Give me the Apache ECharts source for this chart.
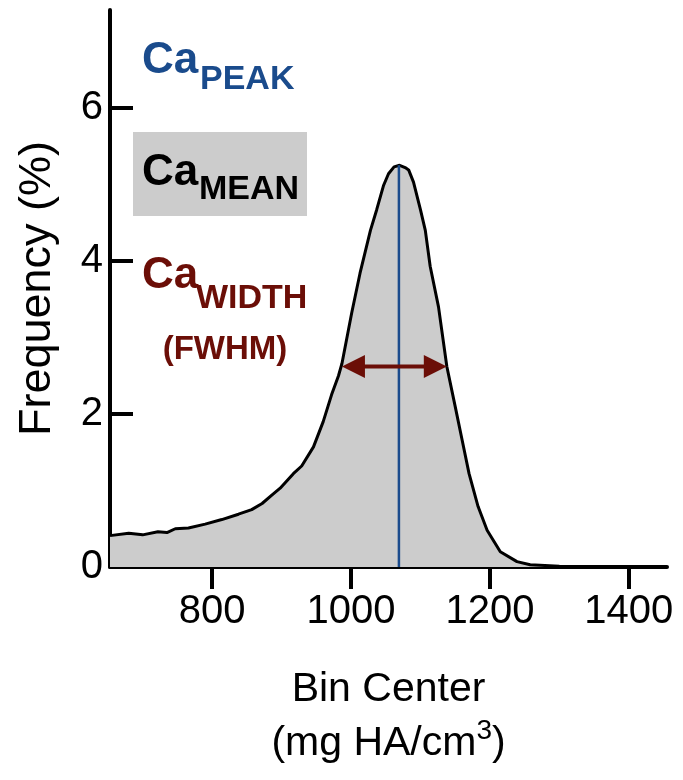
<!DOCTYPE html>
<html>
<head>
<meta charset="utf-8">
<script src="https://cdn.jsdelivr.net/npm/echarts@6/dist/echarts.min.js"></script>
<style>
  html, body { margin: 0; padding: 0; background: #ffffff; }
  #chart { width: 683px; height: 780px; }
</style>
</head>
<body>
<div id="chart"></div>
<script>
// ---- data ----
const binCenter = [653, 680, 700, 722, 735, 747, 766, 790, 814, 838, 857, 872, 886, 898, 917, 929, 946, 960, 972, 982, 987, 1001, 1013, 1028, 1037, 1047, 1054, 1062, 1070, 1078, 1083, 1090, 1100, 1107, 1114, 1126, 1138, 1150, 1160, 1170, 1183, 1196, 1215, 1239, 1258, 1300, 1350, 1400, 1455];
const frequency = [0.41, 0.44, 0.42, 0.46, 0.45, 0.50, 0.51, 0.56, 0.62, 0.69, 0.75, 0.83, 0.94, 1.03, 1.22, 1.32, 1.57, 1.90, 2.25, 2.50, 2.66, 3.32, 3.84, 4.40, 4.67, 4.99, 5.14, 5.23, 5.25, 5.22, 5.19, 5.03, 4.67, 4.40, 3.93, 3.40, 2.62, 2.10, 1.66, 1.22, 0.79, 0.48, 0.20, 0.07, 0.03, 0.01, 0.0, 0.0, 0.0];
const xTicks = [800, 1000, 1200, 1400];
const yTicks = [0, 2, 4, 6];
const peakX = 1069;
const peakY = 5.25;
const halfMax = 2.62;
const fwhmLeft = 987;
const fwhmRight = 1138;

const FONT = '"Liberation Sans", Arial, Helvetica, sans-serif';
const BLUE = '#1a4b8c';
const RED = '#6b0e07';

const chart = echarts.init(document.getElementById('chart'), null, { renderer: 'canvas' });

const curve = binCenter.map((x, i) => [x, frequency[i]]);

const option = {
  backgroundColor: '#ffffff',
  animation: false,
  grid: { left: 110, right: 16, top: 10, bottom: 213, containLabel: false },
  xAxis: {
    type: 'value',
    min: 653,
    max: 1455,
    name: '{n|Bin Center}\n{n|(mg HA/cm}{sup|3}{n|)}',
    nameLocation: 'middle',
    nameGap: 96,
    nameTextStyle: {
      fontFamily: FONT, fontSize: 41, color: '#000', lineHeight: 54,
      rich: {
        n: { fontFamily: FONT, fontSize: 41, color: '#000', lineHeight: 54 },
        sup: { fontFamily: FONT, fontSize: 28, color: '#000', lineHeight: 42, verticalAlign: 'top' }
      }
    },
    axisLine: { show: true, onZero: false, lineStyle: { color: '#000', width: 4 } },
    axisTick: { show: true, inside: false, length: 22, lineStyle: { color: '#000', width: 4 }, customValues: xTicks },
    axisLabel: { show: true, margin: 25, fontFamily: FONT, fontSize: 40, color: '#000', customValues: xTicks, formatter: v => String(v) },
    splitLine: { show: false }
  },
  yAxis: {
    type: 'value',
    min: 0,
    max: 7.28,
    name: 'Frequency (%)',
    nameLocation: 'middle',
    nameGap: 50,
    nameTextStyle: { fontFamily: FONT, fontSize: 45, color: '#000', lineHeight: 45 },
    axisLine: { show: true, onZero: false, lineStyle: { color: '#000', width: 4 } },
    axisTick: { show: true, inside: true, length: 23, lineStyle: { color: '#000', width: 4 }, customValues: yTicks },
    axisLabel: { show: true, margin: 7, fontFamily: FONT, fontSize: 40, color: '#000', customValues: yTicks, formatter: v => String(v) },
    splitLine: { show: false }
  },
  series: [
    {
      name: 'Frequency',
      type: 'line',
      data: curve,
      showSymbol: false,
      symbol: 'none',
      smooth: false,
      lineStyle: { color: '#000', width: 3 },
      areaStyle: { color: '#cccccc', opacity: 1 },
      z: 2
    },
    {
      name: 'Ca PEAK',
      type: 'line',
      data: [[peakX, 0], [peakX, peakY]],
      showSymbol: false,
      symbol: 'none',
      lineStyle: { color: BLUE, width: 2.5 },
      z: 3
    },
    {
      name: 'Ca WIDTH',
      type: 'custom',
      z: 4,
      silent: true,
      data: [[fwhmLeft, halfMax, fwhmRight]],
      renderItem: function (params, api) {
        const a = api.coord([api.value(0), api.value(1)]);
        const b = api.coord([api.value(2), api.value(1)]);
        const head = 23, half = 11.5;
        return {
          type: 'group',
          children: [
            { type: 'line', shape: { x1: a[0] + head - 2, y1: a[1], x2: b[0] - head + 2, y2: b[1] }, style: { stroke: RED, lineWidth: 4 } },
            { type: 'polygon', shape: { points: [[a[0], a[1]], [a[0] + head, a[1] - half], [a[0] + head, a[1] + half]] }, style: { fill: RED } },
            { type: 'polygon', shape: { points: [[b[0], b[1]], [b[0] - head, b[1] - half], [b[0] - head, b[1] + half]] }, style: { fill: RED } }
          ]
        };
      }
    }
  ],
  graphic: [
    { type: 'rect', shape: { x: 133, y: 132, width: 174, height: 84 }, style: { fill: '#cccccc' }, z: 10 },
    { type: 'text', style: { x: 142, y: 60.5, text: 'Ca', font: 'bold 44px ' + FONT, fill: BLUE, textVerticalAlign: 'middle' }, z: 11 },
    { type: 'text', style: { x: 200, y: 80, text: 'PEAK', font: 'bold 34px ' + FONT, fill: BLUE, textVerticalAlign: 'middle' }, z: 11 },
    { type: 'text', style: { x: 142, y: 173, text: 'Ca', font: 'bold 44px ' + FONT, fill: '#000', textVerticalAlign: 'middle' }, z: 11 },
    { type: 'text', style: { x: 199, y: 189.5, text: 'MEAN', font: 'bold 34px ' + FONT, fill: '#000', textVerticalAlign: 'middle' }, z: 11 },
    { type: 'text', style: { x: 142, y: 275.5, text: 'Ca', font: 'bold 44px ' + FONT, fill: RED, textVerticalAlign: 'middle' }, z: 11 },
    { type: 'text', style: { x: 196, y: 299, text: 'WIDTH', font: 'bold 34px ' + FONT, fill: RED, textVerticalAlign: 'middle' }, z: 11 },
    { type: 'text', style: { x: 225, y: 350, text: '(FWHM)', font: 'bold 33px ' + FONT, fill: RED, textAlign: 'center', textVerticalAlign: 'middle' }, z: 11 }
  ]
};

chart.setOption(option);
</script>
</body>
</html>
